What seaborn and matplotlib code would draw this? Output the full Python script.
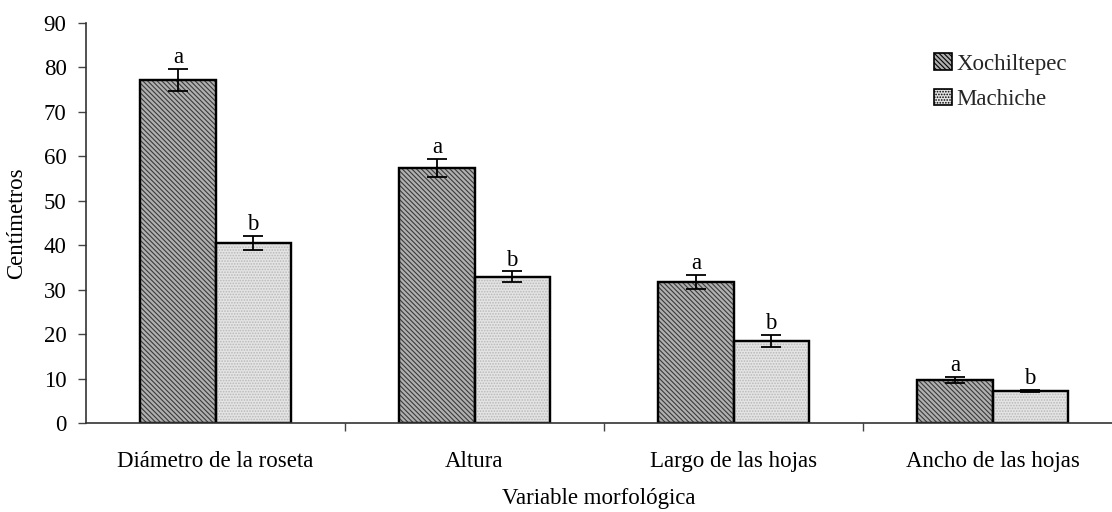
import matplotlib
matplotlib.use("Agg")
import matplotlib.pyplot as plt
import seaborn as sns
import pandas as pd
from matplotlib.patches import Rectangle, Patch

categories = ["Diámetro de la roseta", "Altura", "Largo de las hojas", "Ancho de las hojas"]
series = ["Xochiltepec", "Machiche"]
xochiltepec = [77.2, 57.4, 31.7, 9.7]
machiche = [40.5, 32.9, 18.5, 7.2]
err_xochiltepec = [2.5, 2.0, 1.6, 0.7]
err_machiche = [1.5, 1.2, 1.3, 0.3]
letters_xochiltepec = ["a", "a", "a", "a"]
letters_machiche = ["b", "b", "b", "b"]
yticks = [0, 10, 20, 30, 40, 50, 60, 70, 80, 90]

sns.set_theme(style="white")
plt.rcParams["font.family"] = ["Liberation Serif", "DejaVu Serif"]

FS = 16.5

df = pd.DataFrame({
    "Variable": categories * 2,
    "Sitio": [series[0]] * 4 + [series[1]] * 4,
    "cm": xochiltepec + machiche,
})

fig = plt.figure(figsize=(11.12, 5.12), dpi=100)
ax = fig.add_axes([86 / 1112, 1 - 423 / 512, 1 - 86 / 1112, (423 - 23) / 512])

styles = {
    series[0]: dict(face="#b0b0b0", hatch="\\\\\\\\\\\\\\", hcol="#3a3a3a"),
    series[1]: dict(face="#e4e4e4", hatch="......", hcol="#b8b8b8"),
}
palette = {s: styles[s]["face"] for s in series}

sns.barplot(data=df, x="Variable", y="cm", hue="Sitio", order=categories,
            hue_order=series, palette=palette, width=0.58, errorbar=None,
            edgecolor="black", linewidth=1.6, saturation=1, ax=ax, legend=False)

plt.rcParams["hatch.linewidth"] = 0.8
errs = {series[0]: err_xochiltepec, series[1]: err_machiche}
vals = {series[0]: xochiltepec, series[1]: machiche}
letters = {series[0]: letters_xochiltepec, series[1]: letters_machiche}
for cont, s in zip(ax.containers, series):
    st = styles[s]
    xs = []
    for p in cont.patches:
        ov = Rectangle((p.get_x(), p.get_y()), p.get_width(), p.get_height(),
                       fill=False, hatch=st["hatch"], edgecolor=st["hcol"],
                       linewidth=0, zorder=p.get_zorder() + 0.1)
        ax.add_patch(ov)
        bd = Rectangle((p.get_x(), p.get_y()), p.get_width(), p.get_height(),
                       fill=False, edgecolor="black", linewidth=1.6,
                       zorder=p.get_zorder() + 0.2)
        ax.add_patch(bd)
        xs.append(p.get_x() + p.get_width() / 2)
    ax.errorbar(xs, vals[s], yerr=errs[s], fmt="none", ecolor="black",
                elinewidth=1.3, capsize=7, capthick=1.3, zorder=5)
    for x, v, e, l in zip(xs, vals[s], errs[s], letters[s]):
        ax.text(x, v + e + 0.2, l, ha="center", va="bottom", fontsize=FS,
                color="black")

ax.set_xlim(-0.5, -0.5 + (1112 - 86) / 259)
ax.set_ylim(0, 90)
ax.set_yticks(yticks)
ax.set_yticklabels([str(t) for t in yticks], fontsize=FS)
ax.tick_params(axis="y", direction="out", length=6, width=1, color="#444444",
               left=True, pad=8, labelcolor="black")
ax.set_xticks(range(len(categories)))
ax.set_xticklabels(categories, fontsize=FS)
ax.set_xticks([0.5, 1.5, 2.5], minor=True)
ax.tick_params(axis="x", which="major", length=0, pad=20, labelcolor="black")
ax.tick_params(axis="x", which="minor", direction="out", length=6, width=1,
               color="#444444", bottom=True)

for side in ["top", "right"]:
    ax.spines[side].set_visible(False)
for side in ["left", "bottom"]:
    ax.spines[side].set_color("#333333")
    ax.spines[side].set_linewidth(1.2)

ax.set_xlabel("Variable morfológica", fontsize=FS, labelpad=12, color="black")
ax.set_ylabel("Centímetros", fontsize=FS, labelpad=12, color="black")

handles = [Patch(facecolor=styles[s]["face"], edgecolor="black",
                 hatch=styles[s]["hatch"], linewidth=1.2) for s in series]
leg = ax.legend(handles, series, loc="upper left",
                bbox_to_anchor=((923 - 86) / 1026, 1 - (42 - 23) / 400),
                frameon=False, fontsize=FS, handlelength=0.75, handleheight=0.75,
                handletextpad=0.2, labelspacing=0.6, borderpad=0)

fig.savefig("out.png", dpi=100)
